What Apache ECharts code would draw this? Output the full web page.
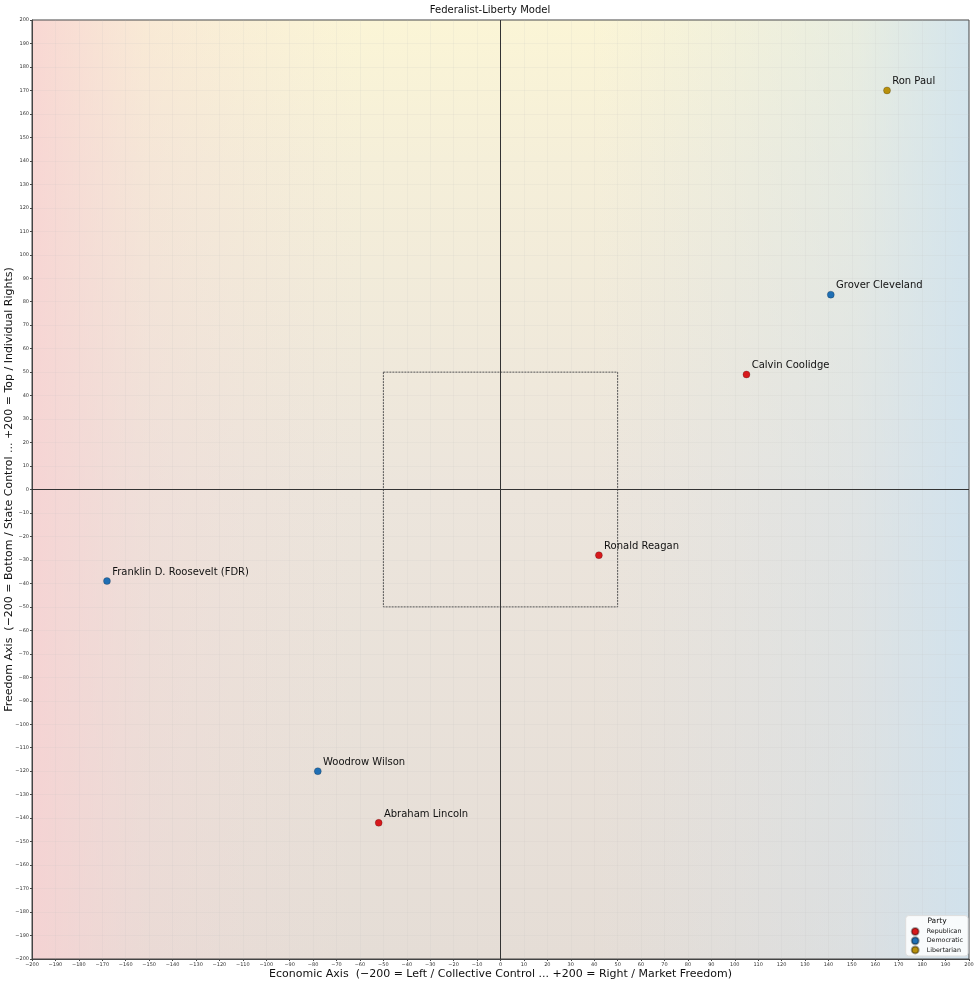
<!DOCTYPE html>
<html>
<head>
<meta charset="utf-8">
<script src="https://cdn.jsdelivr.net/npm/echarts@6/dist/echarts.min.js"></script>
<style>
  html, body { margin: 0; padding: 0; background: #fff; }
  #root { width: 980px; height: 982px; }
</style>
</head>
<body>
<div id="root"></div>
<script>
// 数据: [经济轴, 自由轴, 名字]
var republican = [
  [42, -28, 'Ronald Reagan'],
  [105, 49, 'Calvin Coolidge'],
  [-52, -142, 'Abraham Lincoln']
];
var democratic = [
  [141, 83, 'Grover Cleveland'],
  [-168, -39, 'Franklin D. Roosevelt (FDR)'],
  [-78, -120, 'Woodrow Wilson']
];
var libertarian = [
  [165, 170, 'Ron Paul']
];
var partyNames = ['Republican', 'Democratic', 'Libertarian'];
var axisRange = [-200, 200];
var tickStep = 10;
var boxRange = [-50, 50];

var font = 'DejaVu Sans';

function minusFmt(v) {
  return String(v).replace('-', '\u2212');
}

function makeSeries(name, data, color) {
  return {
    name: name,
    type: 'scatter',
    data: data,
    symbolSize: 7,
    itemStyle: {
      color: color,
      borderColor: 'rgba(0,0,0,0.35)',
      borderWidth: 0.6,
      opacity: 1
    },
    label: {
      show: true,
      formatter: function(p) { return p.value[2]; },
      position: [9, -10],
      align: 'left',
      verticalAlign: 'top',
      fontFamily: font,
      fontSize: 10,
      color: '#111'
    },
    z: 5
  };
}

var series = [
  makeSeries(partyNames[0], republican, '#d7191c'),
  makeSeries(partyNames[1], democratic, '#1f6fb4'),
  makeSeries(partyNames[2], libertarian, '#b8900b')
];

// 十字线 + 中间虚线框
series[0].markLine = {
  silent: true,
  symbol: 'none',
  label: { show: false },
  lineStyle: { color: '#333', width: 1, type: 'solid' },
  data: [{ xAxis: 0 }, { yAxis: 0 }]
};
series[0].markArea = {
  silent: true,
  itemStyle: {
    color: 'rgba(0,0,0,0)',
    borderColor: '#555',
    borderWidth: 1,
    borderType: [2, 1]
  },
  data: [[{ coord: [boxRange[0], boxRange[1]] }, { coord: [boxRange[1], boxRange[0]] }]]
};

function axisCommon(name) {
  return {
    type: 'value',
    min: axisRange[0],
    max: axisRange[1],
    interval: tickStep,
    name: name,
    nameLocation: 'middle',
    nameMoveOverlap: false,
    nameTextStyle: { fontFamily: font, fontSize: 11, color: '#111' },
    axisLine: { show: true, onZero: false, lineStyle: { color: '#444', width: 1 } },
    axisTick: { show: true, length: 2, lineStyle: { color: '#444' } },
    axisLabel: {
      fontFamily: font,
      fontSize: 5,
      color: '#333',
      margin: 3,
      formatter: minusFmt
    },
    splitLine: { show: true, lineStyle: { color: 'rgba(190,190,190,0.12)', width: 1 } }
  };
}

var xAxis = axisCommon('Economic Axis  (\u2212200 = Left / Collective Control ... +200 = Right / Market Freedom)');
xAxis.nameGap = 9.5;
var yAxis = axisCommon('Freedom Axis  (\u2212200 = Bottom / State Control ... +200 = Top / Individual Rights)');
yAxis.nameGap = 17;

var gx = 32, gy = 20, gw = 937, gh = 939;

var option = {
  backgroundColor: '#fff',
  animation: false,
  title: {
    text: 'Federalist-Liberty Model',
    left: 'center',
    top: 0,
    textStyle: { fontFamily: font, fontSize: 10, fontWeight: 'normal', color: '#111' }
  },
  grid: {
    left: gx, top: gy, width: gw, height: gh,
    outerBoundsMode: 'none',
    containLabel: false,
    show: true,
    backgroundColor: 'rgba(0,0,0,0)',
    borderColor: '#444',
    borderWidth: 1
  },
  graphic: [
    {
      type: 'rect', z: -10, silent: true,
      shape: { x: gx, y: gy, width: gw, height: gh },
      style: {
        fill: new echarts.graphic.LinearGradient(0, 0, 0, 1, [
          { offset: 0, color: '#fbf5d6' },
          { offset: 0.15, color: '#f5efd9' },
          { offset: 0.5, color: '#ece5dc' },
          { offset: 1, color: '#e5ddd6' }
        ])
      }
    },
    {
      type: 'rect', z: -9, silent: true,
      shape: { x: gx, y: gy, width: gw, height: gh },
      style: {
        fill: new echarts.graphic.LinearGradient(0, 0, 1, 0, [
          { offset: 0, color: 'rgba(248,208,210,0.8)' },
          { offset: 0.12, color: 'rgba(245,212,212,0.35)' },
          { offset: 0.35, color: 'rgba(240,220,215,0)' },
          { offset: 0.6, color: 'rgba(210,225,235,0)' },
          { offset: 0.88, color: 'rgba(205,226,240,0.4)' },
          { offset: 1, color: 'rgba(205,226,240,0.85)' }
        ])
      }
    },
    {
      type: 'text', z: 20,
      x: 937, y: 921,
      style: {
        text: 'Party', fontFamily: font, fontSize: 7.5, fill: '#111',
        textAlign: 'center', textVerticalAlign: 'middle'
      }
    }
  ],
  legend: {
    data: partyNames,
    orient: 'vertical',
    right: 12,
    bottom: 26,
    padding: [11.4, 5, 1.6, 5],
    itemGap: 0.2,
    itemWidth: 7,
    itemHeight: 7,
    icon: 'circle',
    backgroundColor: 'rgba(255,255,255,0.85)',
    borderColor: '#ddd',
    borderWidth: 1,
    borderRadius: 3,
    textStyle: { fontFamily: font, fontSize: 6.3, color: '#111', padding: [0, 0, 0, 3] }
  },
  xAxis: xAxis,
  yAxis: yAxis,
  series: series
};

var myChart = echarts.init(document.getElementById('root'));
myChart.setOption(option);
</script>
</body>
</html>
